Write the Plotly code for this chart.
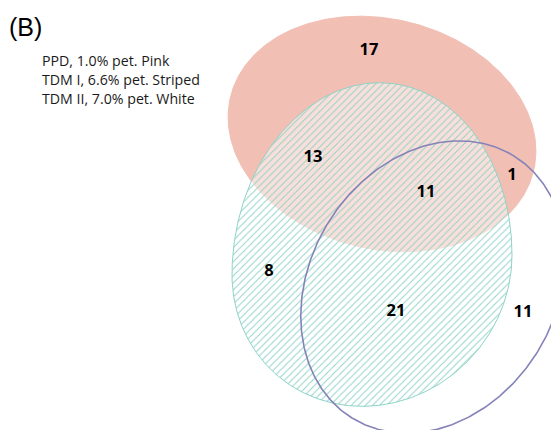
import numpy as np
import plotly.graph_objects as go

# ---- data ----
panel_label = "(B)"
legend_lines = ["PPD, 1.0% pet. Pink", "TDM I, 6.6% pet. Striped", "TDM II, 7.0% pet. White"]
region_names = ["PPD only", "PPD+TDM I", "PPD+TDM I+TDM II", "PPD+TDM II",
                "TDM I only", "TDM I+TDM II", "TDM II only"]
region_counts = [17, 13, 11, 1, 8, 21, 11]

# ---- layout (pixel coordinates) ----
W, H = 551, 430
label_pos = [(369, 51), (313, 158), (426, 193), (512, 176), (269, 272), (396, 312), (523, 313)]

t = np.linspace(0, 2 * np.pi, 500)

def rot_ellipse(cx, cy, a, b, ang_deg):
    th = np.deg2rad(ang_deg)
    ux, uy = np.cos(th), np.sin(th)
    vx, vy = -np.sin(th), np.cos(th)
    x = cx + a * np.cos(t) * ux + b * np.sin(t) * vx
    y = cy + a * np.cos(t) * uy + b * np.sin(t) * vy
    return x, y

def egg(cx, cy, rx, ry_top, ry_bot, shear):
    x = cx + rx * np.cos(t)
    s = np.sin(t)
    y = cy + np.where(s < 0, ry_top, ry_bot) * s + shear * (cx - x)
    return x, y

fig = go.Figure()

# Pink ellipse (PPD)
px, py = rot_ellipse(382, 134, 156, 115, 14)
fig.add_trace(go.Scatter(x=px, y=py, mode="lines", fill="toself",
                         fillcolor="#F2BFB4", line=dict(color="#F2BFB4", width=1),
                         hoverinfo="skip", showlegend=False))

# Striped teal ellipse (TDM I)
tx, ty = egg(372, 265, 140, 182, 141, 0.07)
fig.add_trace(go.Scatter(x=tx, y=ty, mode="lines", fill="toself",
                         fillcolor="rgba(255,255,255,0.5)",
                         fillpattern=dict(shape="/", size=5, solidity=0.18,
                                          fgcolor="#8CD2C5", bgcolor="rgba(255,255,255,0.5)",
                                          fillmode="replace"),
                         line=dict(color="#8ED3C7", width=1),
                         hoverinfo="skip", showlegend=False))

# White / purple outline ellipse (TDM II)
ux, uy = rot_ellipse(433, 287, 154, 123, -58.4)
fig.add_trace(go.Scatter(x=ux, y=uy, mode="lines",
                         line=dict(color="#8583B9", width=1.6),
                         hoverinfo="skip", showlegend=False))

# Region counts
fig.add_trace(go.Scatter(x=[p[0] for p in label_pos], y=[p[1] for p in label_pos],
                         mode="text", text=[str(v) for v in region_counts],
                         textfont=dict(family="Open Sans", size=16.5, color="black", weight="bold"),
                         hovertext=region_names, showlegend=False))

fig.add_annotation(x=7, y=27, xref="x", yref="y", text=panel_label, showarrow=False,
                   xanchor="left", yanchor="middle",
                   font=dict(family="Liberation Sans", size=25, color="black"))
for i, line in enumerate(legend_lines):
    fig.add_annotation(x=40, y=60 + i * 19, xref="x", yref="y", text=line, showarrow=False,
                       xanchor="left", yanchor="middle",
                       font=dict(family="Open Sans", size=14.2, color="#1a1a1a"))

fig.update_layout(width=W, height=H, margin=dict(l=0, r=0, t=0, b=0),
                  paper_bgcolor="white", plot_bgcolor="white",
                  xaxis=dict(range=[0, W], visible=False, fixedrange=True),
                  yaxis=dict(range=[H, 0], visible=False, fixedrange=True))
fig.write_html("out.html")
